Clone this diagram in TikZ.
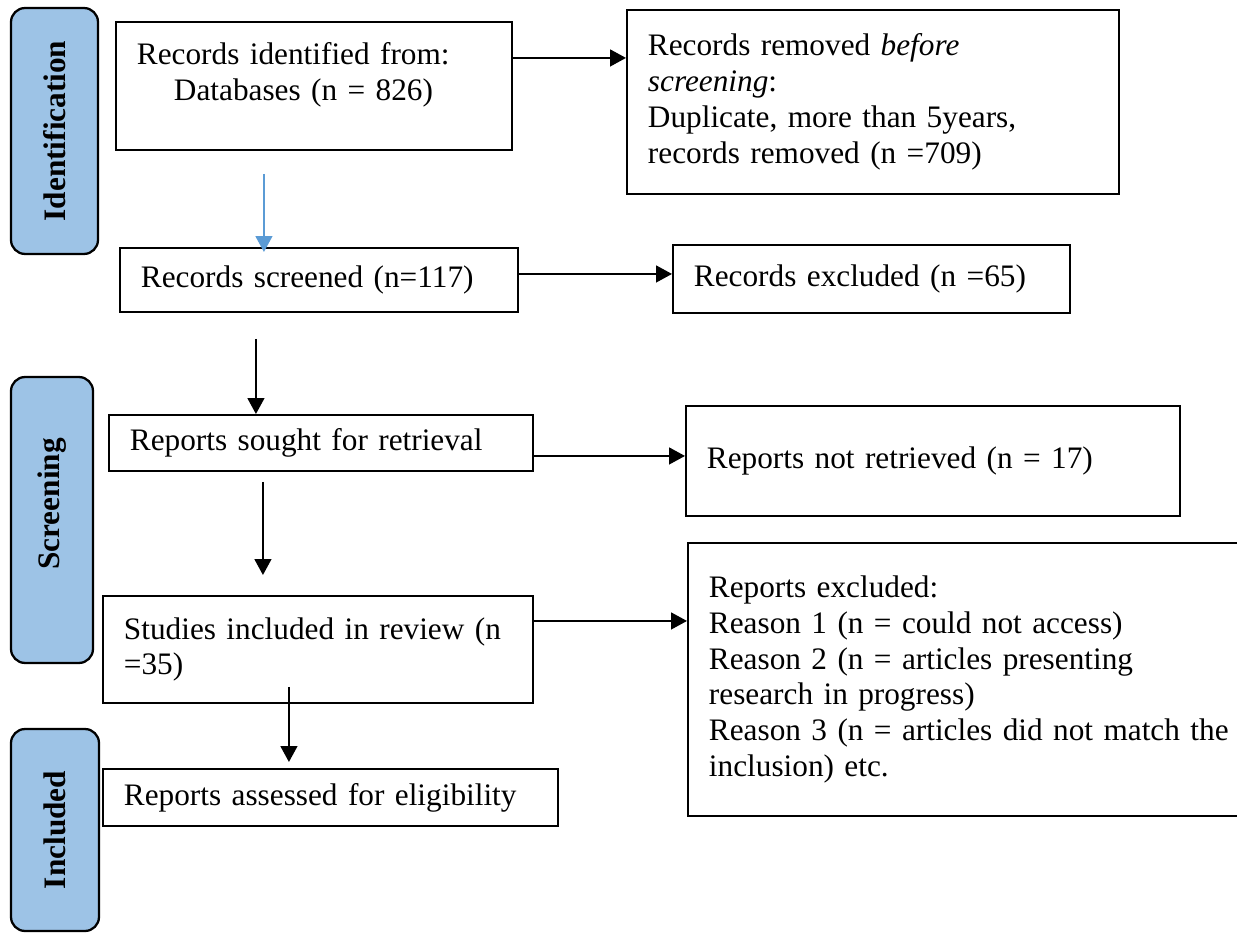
\documentclass[tikz,border=0pt]{standalone}
\usepackage{fontspec}
\setmainfont{Liberation Serif}
\usetikzlibrary{arrows.meta,positioning,calc}
\definecolor{phasefill}{HTML}{9DC3E6}
\definecolor{flowblue}{HTML}{5B9BD5}
\tikzset{
  >=Triangle,
  every node/.append style={font=\fontsize{17.8}{20.4}\selectfont},
}
\tikzset{
  box/.style={draw, line width=1.1pt, anchor=north west, align=left, inner xsep=0.42cm, inner ysep=2pt},
  arrow/.style={-{Triangle[length=9pt,width=9.5pt]}, line width=1.1pt},
  phase/.style={draw, line width=1.3pt, fill=phasefill, rounded corners=8pt, rotate=90, inner sep=2pt}
}

\begin{document}
\begin{tikzpicture}[x=0.02cm, y=-0.02cm]
\useasboundingbox (0,0) rectangle (1237,935);

% phases
\node[phase, minimum width=4.92cm, minimum height=1.74cm] (identification) at (54.5,131) {\bfseries Identification};
\node[phase, minimum width=5.72cm, minimum height=1.64cm] (screening) at (52,520) {\hspace*{0.64cm}\bfseries Screening};
\node[phase, minimum width=4.04cm, minimum height=1.76cm] (included) at (55,830) {\bfseries Included};

% main column
\node[box, text width=7.08cm, minimum width=7.92cm, minimum height=2.56cm] (recid) at (115,21)
  {Records identified from:\\\hspace*{0.74cm}Databases (n = 826)\\[-4pt]\mbox{}};
\node[box, text width=7.12cm, minimum width=7.96cm, minimum height=1.28cm] (screened) at (119,247)
  {Records screened (n=117)};
\node[box, text width=7.64cm, minimum width=8.48cm, minimum height=1.12cm] (sought) at (108,414)
  {Reports sought for retrieval};
\node[box, text width=7.76cm, minimum width=8.6cm, minimum height=2.14cm] (studies) at (102,595)
  {Studies included in review (n\\=35)};
\node[box, text width=8.26cm, minimum width=9.1cm, minimum height=1.14cm] (assessed) at (102,768)
  {Reports assessed for eligibility};

% side column
\node[box, text width=9.0cm, minimum width=9.84cm, minimum height=3.68cm] (removed) at (626,9)
  {Records removed \textit{before}\\\textit{screening}:\\Duplicate, more than 5years,\\records removed (n =709)};
\node[box, text width=7.1cm, minimum width=7.94cm, minimum height=1.36cm] (excluded) at (672,244)
  {Records excluded (n =65)};
\node[box, text width=9.04cm, minimum width=9.88cm, minimum height=2.2cm] (notretr) at (685,405)
  {Reports not retrieved (n = 17)};
\node[box, text width=11.16cm, minimum width=12cm, minimum height=5.46cm] (rexcl) at (687,542)
  {Reports excluded:\\Reason 1 (n = could not access)\\Reason 2 (n = articles presenting\\research in progress)\\Reason 3 (n = articles did not match the\\inclusion) etc.};

% arrows
\draw[arrow] ([yshift=0.56cm]recid.east) coordinate (h1) -- (h1 -| removed.west);
\draw[arrow] ([yshift=0.12cm]screened.east) coordinate (h2) -- (h2 -| excluded.west);
\draw[arrow] ([yshift=-0.26cm]sought.east) coordinate (h3) -- (h3 -| notretr.west);
\draw[arrow] ([yshift=0.57cm]studies.east) coordinate (h4) -- (h4 -| rexcl.west);

\draw[arrow, flowblue, shorten <=0.46cm, shorten >=-0.1cm] ([xshift=-1cm]recid.south) coordinate (v1) -- (v1 |- screened.north);
\draw[arrow, shorten <=0.52cm] ([xshift=-1.26cm]screened.south) coordinate (v2) -- (v2 |- sought.north);
\draw[arrow, shorten <=0.2cm, shorten >=0.4cm] ([xshift=-1.16cm]sought.south) coordinate (v3) -- (v3 |- studies.north);
\draw[arrow, shorten <=-0.34cm, shorten >=0.12cm] ([xshift=-0.58cm]studies.south) coordinate (v4) -- (v4 |- assessed.north);

\end{tikzpicture}
\end{document}
